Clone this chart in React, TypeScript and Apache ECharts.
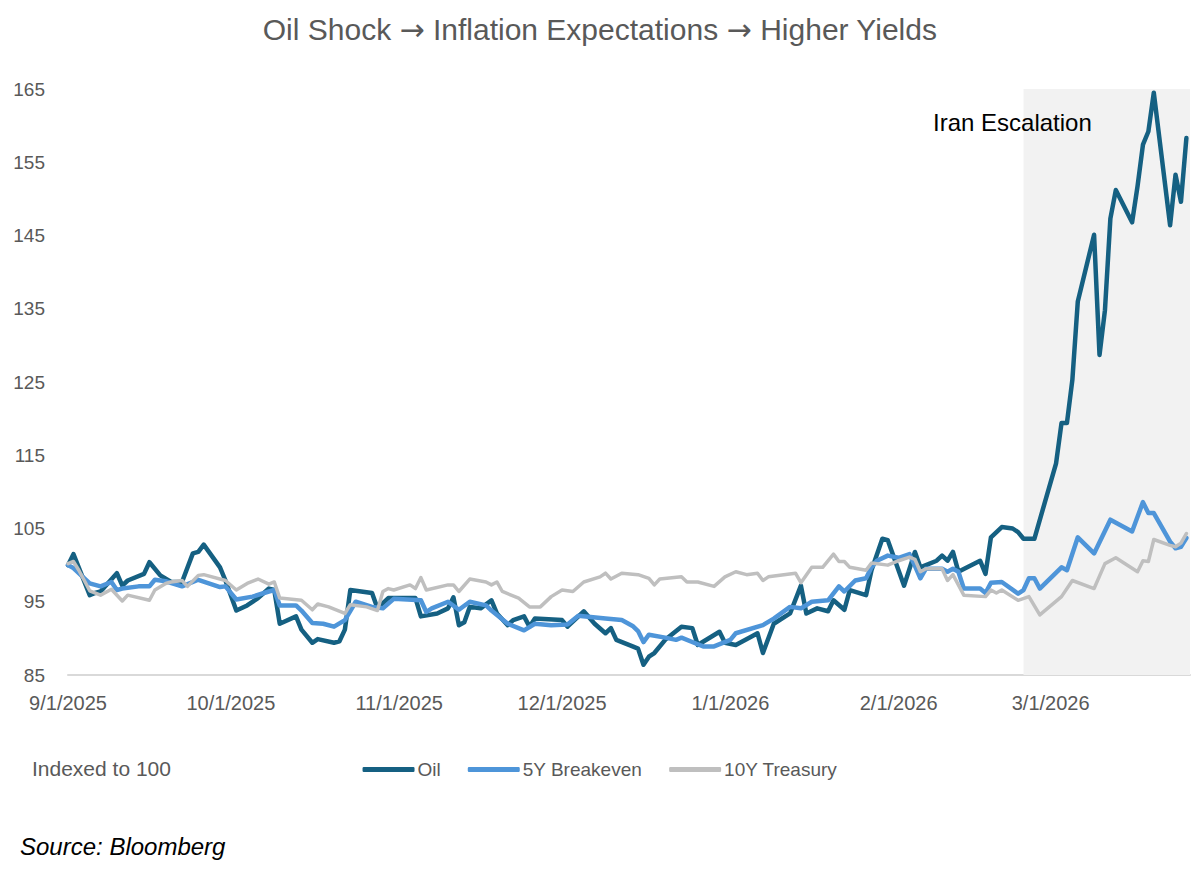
import React, { useEffect, useRef } from "react";
import * as echarts from "echarts";

const TITLE_PARTS = ["Oil Shock", "Inflation Expectations", "Higher Yields"];
const ARROW = "\u2192";
const seriesNames = ["Oil", "5Y Breakeven", "10Y Treasury"];
const seriesColors = ["#156082", "#4E95D9", "#BFBFBF"];
const yMin = 85;
const yMax = 165;
const yInterval = 10;
const xStart = "2025-09-01";
const xEnd = "2026-03-26 16:00";
const shadeStart = "2026-02-24";
const annotation = "Iran Escalation";
const noteText = "Indexed to 100";
const sourceText = "Source: Bloomberg";

const oil: [string, number][] = [
  ["2025-09-01", 100.0], ["2025-09-02", 101.5], ["2025-09-05", 95.9], ["2025-09-06", 96.2],
  ["2025-09-07", 96.4], ["2025-09-10", 98.9], ["2025-09-11", 97.2], ["2025-09-12", 97.9],
  ["2025-09-15", 98.8], ["2025-09-16", 100.4], ["2025-09-18", 98.6], ["2025-09-20", 97.7],
  ["2025-09-22", 97.7], ["2025-09-24", 101.6], ["2025-09-25", 101.8], ["2025-09-26", 102.8],
  ["2025-09-29", 99.7], ["2025-09-30", 97.9], ["2025-10-02", 93.8], ["2025-10-04", 94.5],
  ["2025-10-06", 95.5], ["2025-10-08", 96.8], ["2025-10-09", 96.6], ["2025-10-10", 92.0],
  ["2025-10-13", 93.0], ["2025-10-14", 91.2], ["2025-10-16", 89.4], ["2025-10-17", 89.9],
  ["2025-10-20", 89.4], ["2025-10-21", 89.6], ["2025-10-22", 91.2], ["2025-10-23", 96.6],
  ["2025-10-27", 96.2], ["2025-10-28", 94.1], ["2025-10-30", 95.5], ["2025-11-04", 95.5],
  ["2025-11-05", 93.0], ["2025-11-08", 93.4], ["2025-11-10", 94.1], ["2025-11-11", 95.6],
  ["2025-11-12", 91.8], ["2025-11-13", 92.2], ["2025-11-14", 94.3], ["2025-11-16", 94.1],
  ["2025-11-18", 95.2], ["2025-11-19", 93.4], ["2025-11-21", 91.8], ["2025-11-22", 92.5],
  ["2025-11-24", 93.0], ["2025-11-25", 91.6], ["2025-11-26", 92.7], ["2025-12-01", 92.5],
  ["2025-12-02", 91.6], ["2025-12-05", 93.7], ["2025-12-07", 92.0], ["2025-12-09", 90.7],
  ["2025-12-10", 91.4], ["2025-12-11", 89.8], ["2025-12-14", 88.9], ["2025-12-15", 88.6],
  ["2025-12-16", 86.4], ["2025-12-17", 87.5], ["2025-12-18", 88.0], ["2025-12-20", 89.8],
  ["2025-12-23", 91.6], ["2025-12-25", 91.4], ["2025-12-26", 89.1], ["2025-12-30", 90.9],
  ["2025-12-31", 89.4], ["2026-01-02", 89.1], ["2026-01-05", 90.3], ["2026-01-06", 90.7],
  ["2026-01-07", 88.0], ["2026-01-09", 92.0], ["2026-01-12", 93.4], ["2026-01-14", 97.2],
  ["2026-01-15", 93.4], ["2026-01-17", 94.1], ["2026-01-19", 93.7], ["2026-01-20", 95.2],
  ["2026-01-22", 93.9], ["2026-01-23", 96.6], ["2026-01-26", 95.9], ["2026-01-27", 99.3],
  ["2026-01-29", 103.6], ["2026-01-30", 103.4], ["2026-02-02", 97.2], ["2026-02-04", 101.8],
  ["2026-02-05", 99.7], ["2026-02-08", 100.6], ["2026-02-09", 101.3], ["2026-02-10", 100.6],
  ["2026-02-11", 101.8], ["2026-02-12", 99.1], ["2026-02-16", 100.6], ["2026-02-17", 98.8],
  ["2026-02-18", 103.8], ["2026-02-20", 105.2], ["2026-02-22", 105.0], ["2026-02-23", 104.5],
  ["2026-02-24", 103.6], ["2026-02-26", 103.6], ["2026-03-02", 113.9], ["2026-03-03", 119.4],
  ["2026-03-04", 119.4], ["2026-03-05", 125.3], ["2026-03-06", 136.0], ["2026-03-09", 145.1],
  ["2026-03-10", 128.7], ["2026-03-11", 134.8], ["2026-03-12", 147.3], ["2026-03-13", 151.2],
  ["2026-03-16", 146.8], ["2026-03-17", 151.7], ["2026-03-18", 157.4], ["2026-03-19", 159.2],
  ["2026-03-20", 164.5], ["2026-03-23", 146.4], ["2026-03-24", 153.3], ["2026-03-25", 149.6],
  ["2026-03-26", 158.3],
];

const breakeven5y: [string, number][] = [
  ["2025-09-01", 100.0], ["2025-09-02", 99.6], ["2025-09-05", 97.5], ["2025-09-07", 97.1],
  ["2025-09-09", 97.7], ["2025-09-10", 96.6], ["2025-09-11", 96.8], ["2025-09-14", 97.1],
  ["2025-09-16", 97.1], ["2025-09-17", 98.0], ["2025-09-19", 97.8], ["2025-09-22", 97.1],
  ["2025-09-25", 98.0], ["2025-09-29", 97.0], ["2025-09-30", 97.1], ["2025-10-02", 95.3],
  ["2025-10-05", 95.7], ["2025-10-08", 96.4], ["2025-10-09", 96.6], ["2025-10-10", 94.5],
  ["2025-10-13", 94.5], ["2025-10-14", 93.8], ["2025-10-16", 92.1], ["2025-10-18", 92.0],
  ["2025-10-20", 91.6], ["2025-10-22", 92.5], ["2025-10-24", 95.0], ["2025-10-27", 94.3],
  ["2025-10-29", 94.1], ["2025-10-31", 95.4], ["2025-11-05", 95.2], ["2025-11-06", 93.6],
  ["2025-11-07", 94.1], ["2025-11-10", 95.0], ["2025-11-12", 93.9], ["2025-11-14", 95.0],
  ["2025-11-17", 94.5], ["2025-11-18", 93.8], ["2025-11-21", 92.0], ["2025-11-24", 91.1],
  ["2025-11-26", 92.0], ["2025-11-29", 91.8], ["2025-12-02", 91.9], ["2025-12-04", 93.1],
  ["2025-12-09", 92.7], ["2025-12-12", 92.5], ["2025-12-14", 91.7], ["2025-12-15", 91.0],
  ["2025-12-16", 89.5], ["2025-12-17", 90.5], ["2025-12-20", 90.1], ["2025-12-22", 89.8],
  ["2025-12-23", 90.1], ["2025-12-26", 89.2], ["2025-12-27", 88.9], ["2025-12-29", 88.9],
  ["2026-01-01", 89.8], ["2026-01-02", 90.7], ["2026-01-07", 91.8], ["2026-01-09", 92.7],
  ["2026-01-12", 94.3], ["2026-01-14", 94.1], ["2026-01-16", 95.0], ["2026-01-19", 95.2],
  ["2026-01-21", 97.1], ["2026-01-22", 96.4], ["2026-01-24", 97.9], ["2026-01-26", 98.2],
  ["2026-01-27", 99.7], ["2026-01-28", 100.6], ["2026-01-30", 101.3], ["2026-02-01", 101.0],
  ["2026-02-03", 101.5], ["2026-02-04", 99.9], ["2026-02-05", 98.2], ["2026-02-06", 99.5],
  ["2026-02-09", 99.5], ["2026-02-10", 99.1], ["2026-02-11", 99.5], ["2026-02-12", 99.1],
  ["2026-02-13", 96.8], ["2026-02-16", 96.8], ["2026-02-17", 96.2], ["2026-02-18", 97.6],
  ["2026-02-20", 97.7], ["2026-02-23", 96.1], ["2026-02-24", 96.6], ["2026-02-25", 98.2],
  ["2026-02-26", 98.2], ["2026-02-27", 96.8], ["2026-03-03", 99.7], ["2026-03-04", 99.3],
  ["2026-03-06", 103.8], ["2026-03-09", 101.6], ["2026-03-12", 106.2], ["2026-03-16", 104.6],
  ["2026-03-18", 108.6], ["2026-03-19", 107.1], ["2026-03-20", 107.1], ["2026-03-23", 103.2],
  ["2026-03-24", 102.3], ["2026-03-25", 102.5], ["2026-03-26", 103.7],
];

const treasury10y: [string, number][] = [
  ["2025-09-01", 100.2], ["2025-09-02", 100.5], ["2025-09-03", 99.3], ["2025-09-05", 96.5],
  ["2025-09-07", 95.9], ["2025-09-09", 96.7], ["2025-09-11", 95.1], ["2025-09-12", 95.9],
  ["2025-09-16", 95.2], ["2025-09-17", 96.6], ["2025-09-19", 97.5], ["2025-09-20", 97.7],
  ["2025-09-22", 97.9], ["2025-09-23", 97.1], ["2025-09-25", 98.6], ["2025-09-26", 98.7],
  ["2025-09-30", 97.9], ["2025-10-02", 96.6], ["2025-10-04", 97.5], ["2025-10-06", 98.1],
  ["2025-10-08", 97.4], ["2025-10-09", 97.7], ["2025-10-10", 95.5], ["2025-10-14", 95.2],
  ["2025-10-16", 93.9], ["2025-10-17", 94.7], ["2025-10-19", 94.3], ["2025-10-22", 93.4],
  ["2025-10-23", 94.6], ["2025-10-26", 94.3], ["2025-10-28", 93.8], ["2025-10-29", 96.4],
  ["2025-10-30", 96.8], ["2025-10-31", 96.6], ["2025-11-03", 97.3], ["2025-11-04", 96.8],
  ["2025-11-05", 98.3], ["2025-11-06", 96.6], ["2025-11-10", 97.3], ["2025-11-11", 97.3],
  ["2025-11-12", 96.4], ["2025-11-14", 98.1], ["2025-11-17", 97.7], ["2025-11-18", 97.3],
  ["2025-11-19", 97.7], ["2025-11-20", 96.4], ["2025-11-23", 95.5], ["2025-11-25", 94.3],
  ["2025-11-27", 94.3], ["2025-11-29", 95.7], ["2025-12-01", 96.6], ["2025-12-03", 96.4],
  ["2025-12-05", 97.7], ["2025-12-08", 98.4], ["2025-12-09", 98.9], ["2025-12-10", 98.1],
  ["2025-12-12", 98.9], ["2025-12-15", 98.7], ["2025-12-17", 98.2], ["2025-12-18", 97.3],
  ["2025-12-19", 98.1], ["2025-12-23", 98.4], ["2025-12-24", 97.7], ["2025-12-26", 97.7],
  ["2025-12-29", 97.1], ["2025-12-31", 98.4], ["2026-01-02", 99.1], ["2026-01-04", 98.7],
  ["2026-01-06", 98.9], ["2026-01-07", 97.9], ["2026-01-08", 98.4], ["2026-01-13", 98.9],
  ["2026-01-14", 97.6], ["2026-01-16", 99.7], ["2026-01-18", 99.7], ["2026-01-20", 101.5],
  ["2026-01-21", 100.5], ["2026-01-22", 100.5], ["2026-01-23", 99.7], ["2026-01-26", 99.3],
  ["2026-01-27", 100.3], ["2026-01-30", 100.0], ["2026-02-01", 100.6], ["2026-02-03", 101.1],
  ["2026-02-04", 100.8], ["2026-02-05", 99.1], ["2026-02-06", 99.5], ["2026-02-09", 99.5],
  ["2026-02-10", 97.9], ["2026-02-11", 98.7], ["2026-02-13", 95.9], ["2026-02-17", 95.7],
  ["2026-02-18", 96.6], ["2026-02-19", 96.2], ["2026-02-20", 96.6], ["2026-02-23", 95.2],
  ["2026-02-25", 95.7], ["2026-02-27", 93.2], ["2026-03-03", 95.7], ["2026-03-05", 97.9],
  ["2026-03-09", 96.8], ["2026-03-11", 100.2], ["2026-03-13", 101.0], ["2026-03-17", 99.1],
  ["2026-03-18", 100.6], ["2026-03-19", 100.5], ["2026-03-20", 103.5], ["2026-03-23", 102.7],
  ["2026-03-24", 102.5], ["2026-03-25", 103.0], ["2026-03-26", 104.3],
];

const seriesData = [oil, breakeven5y, treasury10y];
const seriesWidths = [4.5, 4.5, 3.5];

const FONT = "'Liberation Sans', Arial, sans-serif";
const ARROW_FONT = "'DejaVu Sans', sans-serif";
const LABEL_GRAY = "#595959";

function fmtDate(v: number): string {
  const d = new Date(v);
  return `${d.getMonth() + 1}/${d.getDate()}/${d.getFullYear()}`;
}

export default function App() {
  const ref = useRef<HTMLDivElement | null>(null);

  useEffect(() => {
    if (!ref.current) return;
    const chart = echarts.init(ref.current, undefined, { renderer: "svg" });
    const lineSeries = seriesNames.map((name, i) => ({
      name,
      type: "line",
      data: seriesData[i],
      showSymbol: false,
      symbol: "none",
      z: 3,
      lineStyle: { color: seriesColors[i], width: seriesWidths[i], join: "round", cap: "round" },
      itemStyle: { color: seriesColors[i] },
    }));
    const titleText = TITLE_PARTS.map((p) => `{t|${p}}`).join(`{t| }{a|${ARROW}}{t| }`);
    chart.setOption({
      animation: false,
      backgroundColor: "#ffffff",
      textStyle: { fontFamily: FONT },
      title: {
        text: titleText,
        left: "center",
        top: 9,
        textStyle: {
          fontFamily: FONT,
          fontSize: 30,
          fontWeight: "normal",
          color: LABEL_GRAY,
          rich: {
            t: { fontFamily: FONT, fontSize: 30, color: LABEL_GRAY, verticalAlign: "middle" },
            a: { fontFamily: ARROW_FONT, fontSize: 30, color: LABEL_GRAY, verticalAlign: "middle" },
          },
        },
      },
      grid: {
        left: 68,
        right: 10,
        top: 89,
        bottom: 197,
        containLabel: false,
        outerBoundsMode: "none",
      },
      xAxis: {
        type: "time",
        min: xStart,
        max: xEnd,
        minInterval: 28 * 24 * 3600 * 1000,
        maxInterval: 31 * 24 * 3600 * 1000,
        axisLine: { show: true, lineStyle: { color: "#D9D9D9", width: 2 } },
        axisTick: { show: false },
        splitLine: { show: false },
        axisLabel: {
          formatter: (v: number) => fmtDate(v),
          color: LABEL_GRAY,
          fontSize: 20,
          fontFamily: FONT,
          margin: 18,
          hideOverlap: false,
        },
      },
      yAxis: {
        type: "value",
        min: yMin,
        max: yMax,
        interval: yInterval,
        axisLine: { show: false },
        axisTick: { show: false },
        splitLine: { show: false },
        axisLabel: { color: LABEL_GRAY, fontSize: 19, fontFamily: FONT, margin: 23 },
      },
      legend: {
        data: seriesNames,
        left: "center",
        top: 755,
        icon: "roundRect",
        itemWidth: 52,
        itemHeight: 5,
        itemGap: 27,
        textStyle: { color: LABEL_GRAY, fontSize: 19, fontFamily: FONT, padding: [0, 0, 0, -2] },
      },
      series: [
        {
          name: "shade",
          type: "line",
          data: [],
          z: 1,
          silent: true,
          markArea: {
            silent: true,
            itemStyle: { color: "#F2F2F2" },
            data: [[{ xAxis: shadeStart }, { xAxis: xEnd }]],
          },
        },
        ...lineSeries,
      ],
      graphic: [
        {
          type: "text",
          left: 933,
          top: 110,
          z: 10,
          style: { text: annotation, fill: "#000000", fontSize: 24, fontFamily: FONT },
        },
        {
          type: "text",
          left: 32,
          top: 758,
          style: { text: noteText, fill: LABEL_GRAY, fontSize: 21, fontFamily: FONT },
        },
        {
          type: "text",
          left: 20,
          top: 834,
          style: { text: sourceText, fill: "#000000", fontSize: 24, fontStyle: "italic", fontFamily: FONT },
        },
      ],
    });
    return () => chart.dispose();
  }, []);

  return (
    <div
      ref={ref}
      style={{ position: "fixed", left: 0, top: 0, width: 1200, height: 872, background: "#fff" }}
    />
  );
}
